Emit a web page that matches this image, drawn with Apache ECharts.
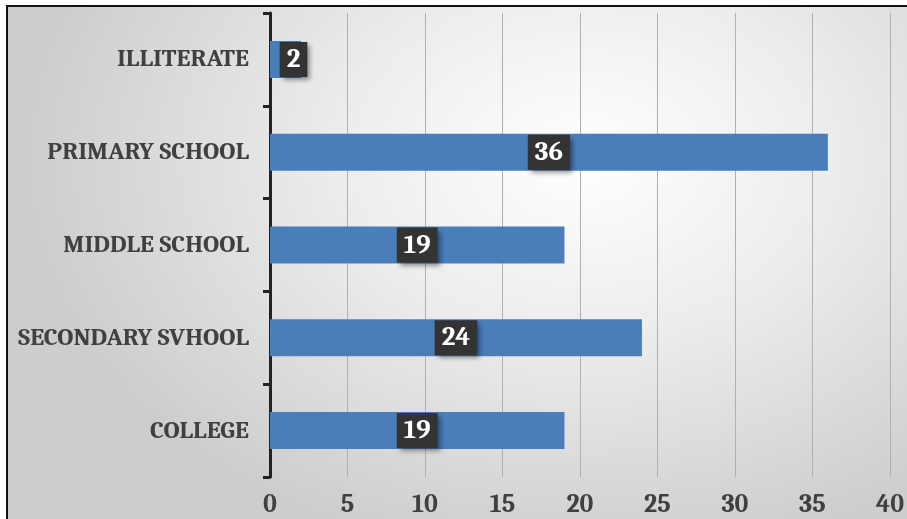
<!DOCTYPE html>
<html><head><meta charset="utf-8">
<script src="https://cdn.jsdelivr.net/npm/echarts@6/dist/echarts.min.js"></script>
<style>
html,body{margin:0;padding:0;background:#fff;overflow:hidden;}
#frame{position:absolute;left:6px;top:5px;width:930px;height:540px;border:2px solid #111;
background:radial-gradient(ellipse 60% 75% at 62% 28%, #ffffff 0%, #ececec 45%, #cdcdcd 100%);}
#chart{position:absolute;left:0;top:0;width:907px;height:519px;}
</style></head>
<body><div id="frame"></div><div id="chart"></div>
<script>
const categories = ['ILLITERATE','PRIMARY SCHOOL','MIDDLE SCHOOL','SECONDARY SVHOOL','COLLEGE'];
const values = [2,36,19,24,19];
const xTicks = [0,5,10,15,20,25,30,35,40];

const chart = echarts.init(document.getElementById('chart'), null, {renderer:'canvas'});
const font = 'Cambria, "DejaVu Serif", serif';
chart.setOption({
  backgroundColor:'transparent',
  animation:false,
  grid:{left:270,right:13,top:13,bottom:42,containLabel:false},
  xAxis:{type:'value',min:xTicks[0],max:xTicks[xTicks.length-1],interval:5,
    axisLine:{show:false},axisTick:{show:false},
    splitLine:{show:true,lineStyle:{color:'#b0b0b0',width:1}},
    axisLabel:{color:'#404040',fontFamily:font,fontWeight:'bold',fontSize:26,margin:15}},
  yAxis:{type:'category',inverse:true,data:categories,
    axisLine:{show:true,lineStyle:{color:'#222',width:3}},
    axisTick:{show:true,length:7,lineStyle:{color:'#222',width:3}},
    axisLabel:{color:'#404040',fontFamily:font,fontWeight:'bold',fontSize:25,margin:21}},
  series:[{type:'bar',barWidth:37,
    data:values.map(v => v < 5 ? {value:v,label:{offset:[8,0]}} : v),
    itemStyle:{color:'#4a7ebb'},
    label:{show:true,position:'inside',color:'#fff',fontFamily:font,fontWeight:'bold',fontSize:27,
      lineHeight:27,backgroundColor:'#333',padding:[4,7,4,7],
      shadowColor:'rgba(0,0,0,0.45)',shadowBlur:5,shadowOffsetX:3,shadowOffsetY:3}}]
});
</script></body></html>
